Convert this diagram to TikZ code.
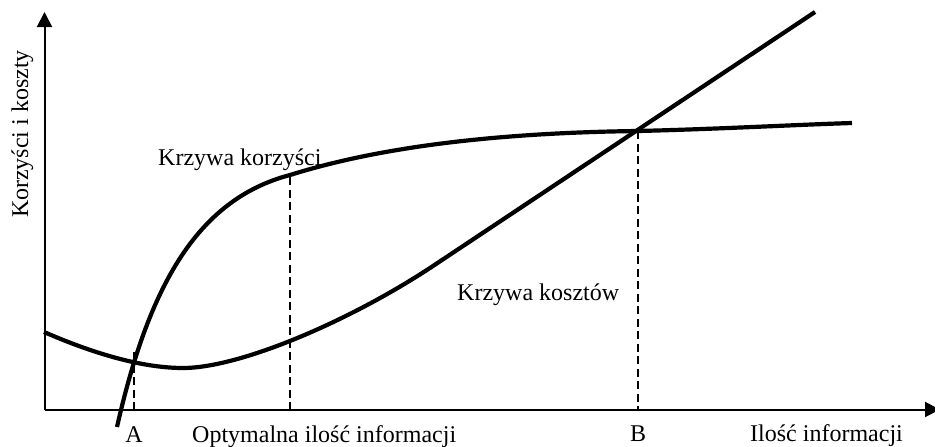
\documentclass[tikz,border=0pt]{standalone}
\usepackage{fontspec}
\setmainfont{Liberation Serif}
\usetikzlibrary{arrows.meta}
\begin{document}
\begin{tikzpicture}[x=1pt,y=-1pt,
  axis/.style={line width=2pt,-{Triangle[length=15pt,width=15pt]}},
  curve/.style={line width=4.2pt,line join=round},
  guide/.style={line width=1.7pt,dash pattern=on 8pt off 4.5pt},
  lbl/.style={font=\fontsize{24}{28}\selectfont,inner sep=0pt,anchor=base west},
  every node/.style={text=black}]
\useasboundingbox (0,0) rectangle (935,447);
\coordinate (O) at (44.5,409.5);
\coordinate (ytip) at (44.5,12);
\coordinate (xtip) at (940,409.5);
\draw[axis] (O) -- (ytip);
\draw[axis] (O) -- (xtip);
% dashed guides
\coordinate (Atop) at (134,352);
\coordinate (Abot) at (134,409.5);
\coordinate (Mtop) at (290,177);
\coordinate (Mbot) at (290,409.5);
\coordinate (Btop) at (638,131);
\coordinate (Bbot) at (638,409.5);
\draw[guide] (Atop) -- (Abot);
\draw[guide] (Mtop) -- (Mbot);
\draw[guide] (Btop) -- (Bbot);
% benefit curve
\coordinate (b0) at (117,427);
\coordinate (b1) at (290,175);
\coordinate (b2) at (638,131);
\coordinate (b3) at (852,123);
\draw[curve] (b0) .. controls (148,290) and (195,200) .. (b1)
  .. controls (370,150) and (480,133) .. (b2)
  .. controls (720,129) and (790,125) .. (b3);
% cost curve
\coordinate (c0) at (44,332);
\coordinate (c1) at (183,368);
\coordinate (c2) at (433,266);
\coordinate (c3) at (815,12);
\draw[curve] (c0) .. controls (90,352) and (140,368) .. (c1)
  .. controls (240,368) and (350,321) .. (c2) -- (c3);
% labels
\node[lbl] (kb) at (158,165) {Krzywa korzyści};
\node[lbl] (kk) at (457,300) {Krzywa kosztów};
\node[lbl,anchor=base] (A) at (134,442) {A};
\node[lbl] (opt) at (192,442) {Optymalna ilość informacji};
\node[lbl,anchor=base] (B) at (638,441) {B};
\node[lbl] (il) at (750,441) {Ilość informacji};
\node[lbl,anchor=base,rotate=90] (yl) at (28,134) {Korzyści i koszty};
\end{tikzpicture}
\end{document}
